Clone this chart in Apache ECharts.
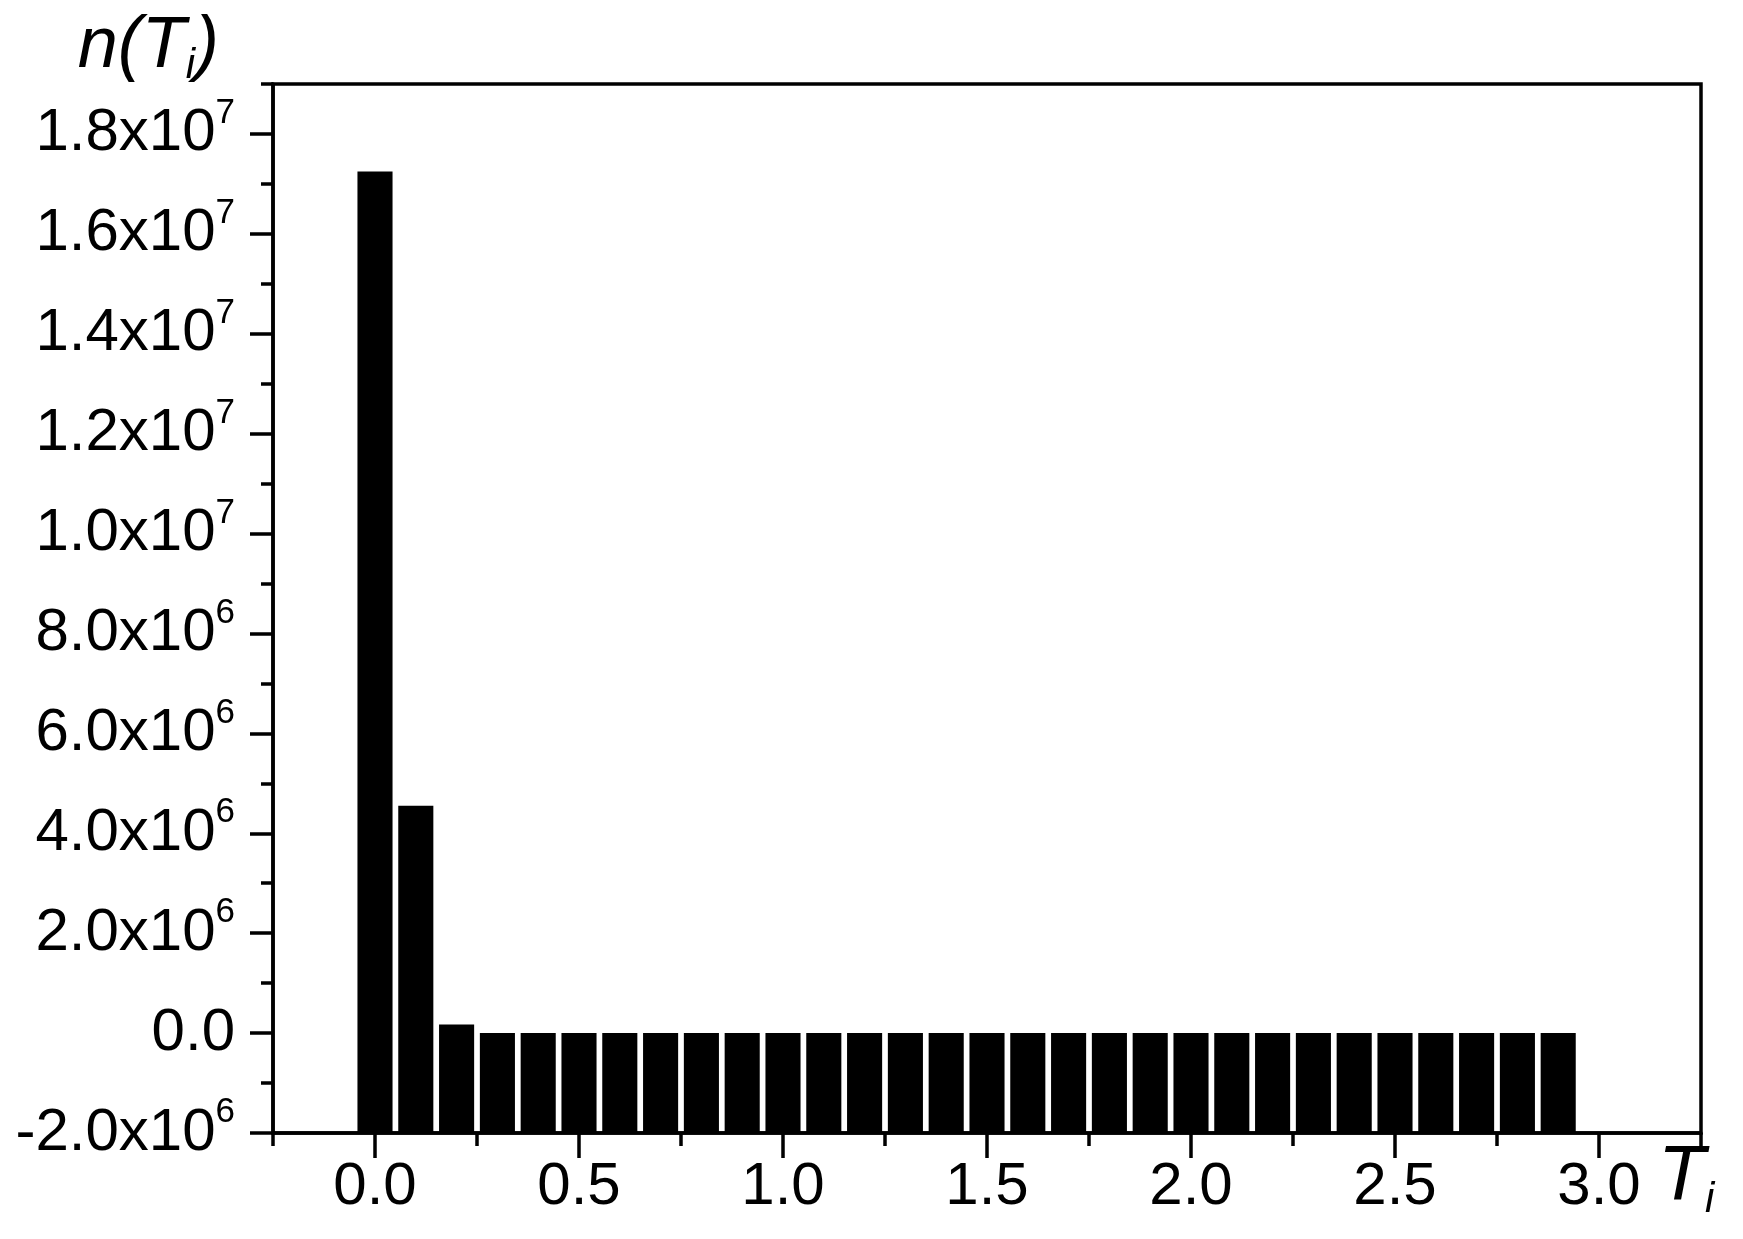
<!DOCTYPE html>
<html>
<head>
<meta charset="utf-8">
<script src="https://cdn.jsdelivr.net/npm/echarts@6/dist/echarts.min.js"></script>
<style>html,body{margin:0;padding:0;background:#fff;}#chart{width:1743px;height:1239px;}</style>
</head>
<body>
<div id="chart"></div>
<script>
// Bin centres T_i
const binCenters = [0.0, 0.1, 0.2, 0.3, 0.4, 0.5, 0.6, 0.7, 0.8, 0.9,
                    1.0, 1.1, 1.2, 1.3, 1.4, 1.5, 1.6, 1.7, 1.8, 1.9,
                    2.0, 2.1, 2.2, 2.3, 2.4, 2.5, 2.6, 2.7, 2.8, 2.9];
// Counts n(T_i)
const counts = [1.725e7, 4.55e6, 1.7e5, 0, 0, 0, 0, 0, 0, 0,
                0, 0, 0, 0, 0, 0, 0, 0, 0, 0,
                0, 0, 0, 0, 0, 0, 0, 0, 0, 0];
// Tick values
const xMajorTicks = [0.0, 0.5, 1.0, 1.5, 2.0, 2.5, 3.0];
const xMinorTicks = [-0.25, 0.25, 0.75, 1.25, 1.75, 2.25, 2.75, 3.25];
const yMajorTicks = [-2e6, 0, 2e6, 4e6, 6e6, 8e6, 1e7, 1.2e7, 1.4e7, 1.6e7, 1.8e7];
const yMinorTicks = [-1e6, 1e6, 3e6, 5e6, 7e6, 9e6, 1.1e7, 1.3e7, 1.5e7, 1.7e7, 1.9e7];

const X_MIN = -0.25, X_MAX = 3.25, Y_MIN = -2e6, Y_MAX = 1.9e7;
const BAR_WIDTH = 0.086;
const FONT = "'Liberation Sans', Arial, sans-serif";

function yLabel(v) {
  if (v === 0) return '{m|0.0}';
  const e = Math.floor(Math.log10(Math.abs(v)) + 1e-9);
  const m = (v / Math.pow(10, e)).toFixed(1);
  return '{m|' + m + 'x10}{s|' + e + '}';
}

const chart = echarts.init(document.getElementById('chart'));
chart.setOption({
  backgroundColor: '#fff',
  animation: false,
  grid: {left: 273, right: 42, top: 84, bottom: 106, show: true, borderColor: '#000', borderWidth: 3.5, backgroundColor: 'transparent'},
  xAxis: [{
    type: 'value', min: X_MIN, max: X_MAX, position: 'bottom',
    name: '{a|T}{s|i}', nameLocation: 'end', nameGap: -43,
    nameTextStyle: {verticalAlign: 'top', align: 'left', padding: [4, 0, 0, 0],
      rich: {a: {fontFamily: FONT, fontStyle: 'italic', fontSize: 77, lineHeight: 84, color: '#000'},
             s: {fontFamily: FONT, fontStyle: 'italic', fontSize: 42, lineHeight: 42, verticalAlign: 'bottom', color: '#000'}}},
    axisLine: {show: true, onZero: false, lineStyle: {color: '#000', width: 3.5}},
    axisTick: {show: true, customValues: xMajorTicks, length: 25, lineStyle: {color: '#000', width: 3.5}},
    axisLabel: {show: true, customValues: xMajorTicks, margin: 24, fontFamily: FONT, fontSize: 60, color: '#000',
      formatter: v => v.toFixed(1)},
    splitLine: {show: false}
  }, {
    type: 'value', min: X_MIN, max: X_MAX, position: 'bottom',
    axisLine: {show: false, onZero: false},
    axisTick: {show: true, customValues: xMinorTicks, length: 13, lineStyle: {color: '#000', width: 3.5}},
    axisLabel: {show: false},
    splitLine: {show: false}
  }],
  yAxis: [{
    type: 'value', min: Y_MIN, max: Y_MAX, interval: 2e6, position: 'left',
    name: '{a|n(T}{s|i}{a|)}', nameLocation: 'end', nameGap: -3,
    nameTextStyle: {align: 'right', verticalAlign: 'bottom', padding: [0, 54, 0, 0],
      rich: {a: {fontFamily: FONT, fontStyle: 'italic', fontSize: 72, lineHeight: 80, color: '#000'},
             s: {fontFamily: FONT, fontStyle: 'italic', fontSize: 42, lineHeight: 40, verticalAlign: 'bottom', color: '#000'}}},
    axisLine: {show: true, onZero: false, lineStyle: {color: '#000', width: 3.5}},
    axisTick: {show: true, customValues: yMajorTicks, length: 23, lineStyle: {color: '#000', width: 3.5}},
    axisLabel: {show: true, customValues: yMajorTicks, margin: 38, formatter: yLabel,
      rich: {m: {fontFamily: FONT, fontSize: 60, lineHeight: 76, color: '#000'},
             s: {fontFamily: FONT, fontSize: 35, lineHeight: 35, verticalAlign: 'top', color: '#000'}}},
    splitLine: {show: false}
  }, {
    type: 'value', min: Y_MIN, max: Y_MAX, interval: 2e6, position: 'left',
    axisLine: {show: false, onZero: false},
    axisTick: {show: true, customValues: yMinorTicks, length: 12, lineStyle: {color: '#000', width: 3.5}},
    axisLabel: {show: false},
    splitLine: {show: false}
  }],
  series: [{
    type: 'custom',
    xAxisIndex: 0, yAxisIndex: 0,
    clip: true,
    data: binCenters.map((t, i) => [t, counts[i]]),
    renderItem: function (params, api) {
      const x = api.value(0), y = api.value(1);
      const top = api.coord([x, y]);
      const base = api.coord([x, Y_MIN]);
      const w = api.size([BAR_WIDTH, 0])[0];
      return {type: 'rect', shape: {x: top[0] - w / 2, y: top[1], width: w, height: base[1] - top[1]},
              style: {fill: '#000'}};
    }
  }]
});
</script>
</body>
</html>
